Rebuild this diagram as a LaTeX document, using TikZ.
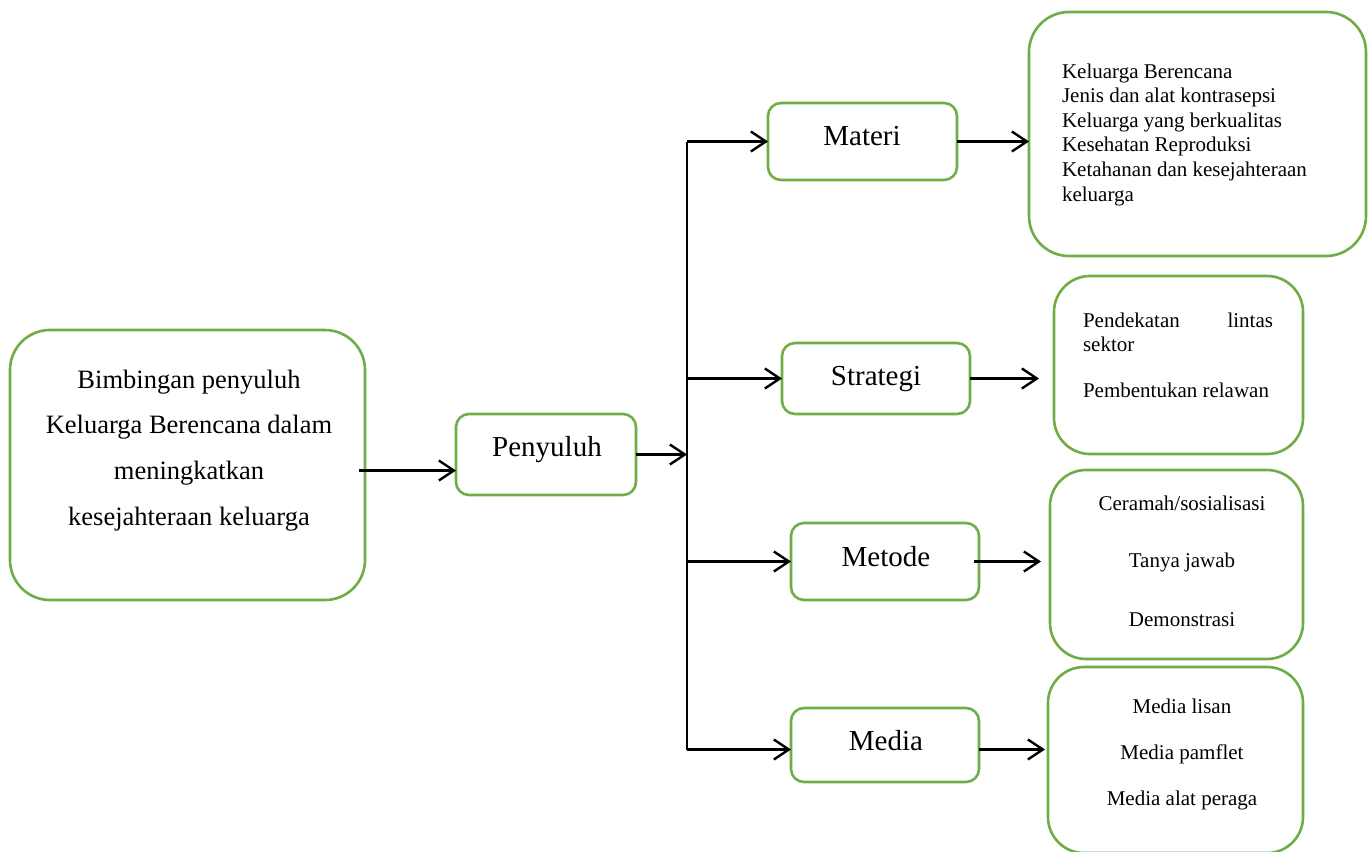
\documentclass[tikz,border=0pt]{standalone}
\usepackage{fontspec}
\setmainfont{Liberation Serif}
\usetikzlibrary{arrows.meta}
\definecolor{boxgreen}{RGB}{112,173,71}
\tikzset{
  gbox/.style={draw=boxgreen, line width=2.6pt, inner sep=0pt, outer sep=0pt, fill=none},
  bigbox/.style={gbox, rounded corners=40pt},
  midbox/.style={gbox, rounded corners=36pt},
  smallbox/.style={gbox, rounded corners=13pt},
  arr/.style={line width=2.6pt, -{Straight Barb[length=15pt,width=20pt,line width=2.4pt]}},
  trunkline/.style={line width=1.7pt},
  txt/.style={inner sep=0pt, outer sep=0pt},
  maintxt/.style={txt, anchor=base, font=\fontsize{26.5}{30}\selectfont},
  labtxt/.style={txt, anchor=base, font=\fontsize{29}{33}\selectfont},
  itemtxt/.style={txt, font=\fontsize{21}{24}\selectfont},
}
\begin{document}
\begin{tikzpicture}[x=1pt,y=-1pt]
\useasboundingbox (0,0) rectangle (1370,851);
\fill[white] (0,0) rectangle (1370,851);

% boxes
\node[bigbox, minimum width=355pt, minimum height=270pt] (main) at (187.5,465) {};
\node[smallbox, minimum width=180pt, minimum height=81pt] (peny) at (546,454.5) {};
\node[smallbox, minimum width=189pt, minimum height=77pt] (materi) at (862.5,141.5) {};
\node[smallbox, minimum width=188pt, minimum height=71pt] (strat) at (876,378.5) {};
\node[smallbox, minimum width=188pt, minimum height=77pt] (metode) at (885,561.5) {};
\node[smallbox, minimum width=188pt, minimum height=74pt] (media) at (885,745) {};
\node[bigbox, minimum width=337pt, minimum height=244pt] (b1) at (1197.5,134) {};
\node[midbox, minimum width=249pt, minimum height=178pt] (b2) at (1178.5,365) {};
\node[midbox, minimum width=253pt, minimum height=189pt] (b3) at (1176.5,564.5) {};
\node[midbox, minimum width=255pt, minimum height=186pt] (b4) at (1175.5,760) {};

% texts
\node[maintxt] (m1) at (189,388) {Bimbingan penyuluh};
\node[maintxt] (m2) at (189,433.5) {Keluarga Berencana dalam};
\node[maintxt] (m3) at (189,479) {meningkatkan};
\node[maintxt] (m4) at (189,525) {kesejahteraan keluarga};

\node[labtxt] (tpeny) at (547,456.5) {Penyuluh};
\node[labtxt] (tmateri) at (862,145) {Materi};
\node[labtxt] (tstrat) at (876,385) {Strategi};
\node[labtxt] (tmetode) at (886,566) {Metode};
\node[labtxt] (tmedia) at (886,750) {Media};

\node[itemtxt, anchor=base west] (k1) at (1062,78) {Keluarga Berencana};
\node[itemtxt, anchor=base west] (k2) at (1062,102.6) {Jenis dan alat kontrasepsi};
\node[itemtxt, anchor=base west] (k3) at (1062,127.2) {Keluarga yang berkualitas};
\node[itemtxt, anchor=base west] (k4) at (1062,151.8) {Kesehatan Reproduksi};
\node[itemtxt, anchor=base west] (k5) at (1062,176.4) {Ketahanan dan kesejahteraan};
\node[itemtxt, anchor=base west] (k6) at (1062,201) {keluarga};

\node[itemtxt, anchor=base west] (s1) at (1083,327) {\hbox to 190pt{Pendekatan\hfill lintas}};
\node[itemtxt, anchor=base west] (s2) at (1083,351) {sektor};
\node[itemtxt, anchor=base west] (s3) at (1083,397) {Pembentukan relawan};

\node[itemtxt, anchor=base] (c1) at (1182,510) {Ceramah/sosialisasi};
\node[itemtxt, anchor=base] (c2) at (1182,567) {Tanya jawab};
\node[itemtxt, anchor=base] (c3) at (1182,626) {Demonstrasi};

\node[itemtxt, anchor=base] (d1) at (1182,713) {Media lisan};
\node[itemtxt, anchor=base] (d2) at (1182,759) {Media pamflet};
\node[itemtxt, anchor=base] (d3) at (1182,805) {Media alat peraga};

% connector points
\coordinate (a0) at (359,470.5);
\coordinate (t1) at (687,141.5);
\coordinate (t2) at (687,378.5);
\coordinate (t3) at (687,561.5);
\coordinate (t4) at (687,749.5);
\coordinate (e2) at (1039,378.5);
\coordinate (e3) at (1041,561.5);
\coordinate (e4) at (1045,749.5);

% connectors
\draw[trunkline] (t1) -- (t4);
\draw[arr] (a0) -- (a0 -| peny.west);
\draw[arr] (peny.east) -- (peny.east -| t1);
\draw[arr] (t1) -- (t1 -| materi.west);
\draw[arr] (t2) -- (t2 -| strat.west);
\draw[arr] (t3) -- (t3 -| metode.west);
\draw[arr] (t4) -- (t4 -| media.west);
\draw[arr] (materi.east) -- (materi.east -| b1.west);
\draw[arr] (strat.east) -- (e2);
\draw[arr] ([xshift=-5pt]metode.east |- e3) -- (e3);
\draw[arr] (media.east |- e4) -- (e4);
\end{tikzpicture}
\end{document}
